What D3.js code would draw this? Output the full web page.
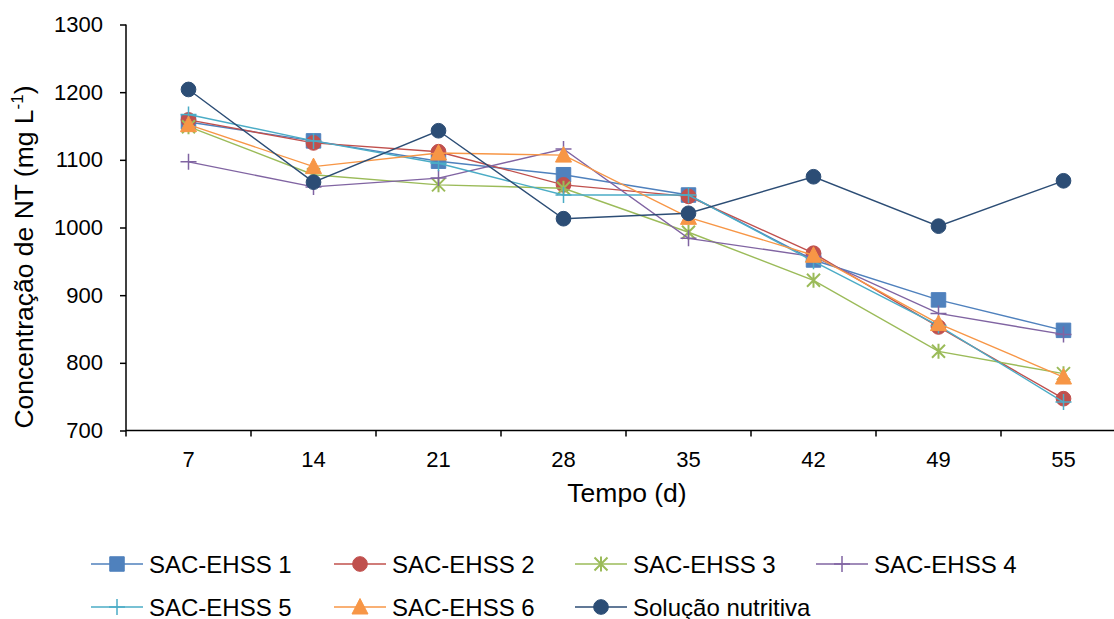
<!DOCTYPE html>
<html>
<head>
<meta charset="utf-8">
<script src="https://cdn.jsdelivr.net/npm/d3@7"></script>
<style>
    body { margin: 0; background: #fff; }
    text { font-family: "Liberation Sans", Arial, sans-serif; fill: #000; }
</style>
</head>
<body>
<div id="chart"></div>
<script>

// days of sampling
const days = ['7', '14', '21', '28', '35', '42', '49', '55'];
const yTicks = [700, 800, 900, 1000, 1100, 1200, 1300];

// NT concentration (mg/L) per treatment
const sac1 = [1156, 1128, 1098, 1078, 1048, 952, 893, 848];
const sac2 = [1159, 1125, 1112, 1063, 1046, 962, 853, 747];
const sac3 = [1149, 1078, 1063, 1058, 993, 922, 817, 784];
const sac4 = [1097, 1060, 1073, 1116, 984, 957, 873, 842];
const sac5 = [1167, 1128, 1095, 1048, 1048, 950, 855, 742];
const sac6 = [1152, 1090, 1110, 1107, 1015, 959, 858, 779];
const solucao = [1204, 1067, 1143, 1013, 1021, 1075, 1002, 1069];

const seriesNames = ['SAC-EHSS 1', 'SAC-EHSS 2', 'SAC-EHSS 3', 'SAC-EHSS 4', 'SAC-EHSS 5', 'SAC-EHSS 6', 'Solução nutritiva'];
const seriesValues = [sac1, sac2, sac3, sac4, sac5, sac6, solucao];
const seriesColors = ['#4F81BD', '#C0504D', '#9BBB59', '#8064A2', '#4BACC6', '#F79646', '#2C4D75'];
const seriesMarkers = ['square', 'circle', 'star', 'plus', 'plus', 'triangle', 'circle'];

const W = 1114, H = 619;
const margin = {top: 24.5, left: 126, right: 0, bottom: 188.5};

const svg = d3.select('#chart').append('svg')
    .attr('width', W)
    .attr('height', H);

const x = d3.scaleBand()
    .domain(days)
    .range([margin.left, 1126])
    .padding(0);

const y = d3.scaleLinear()
    .domain([700, 1300])
    .range([H - margin.bottom, margin.top]);

// draw a marker at (0,0)
function drawMarker(g, type, color) {
    if (type === 'square') {
        g.append('path').attr('d', d3.symbol(d3.symbolSquare, 210)())
            .attr('fill', color).attr('stroke', color).attr('stroke-width', 1);
    } else if (type === 'circle') {
        g.append('path').attr('d', d3.symbol(d3.symbolCircle, 170)())
            .attr('fill', color).attr('stroke', color).attr('stroke-width', 1);
    } else if (type === 'triangle') {
        g.append('path').attr('d', 'M0,-8.5 L8,7 L-8,7 Z')
            .attr('fill', color).attr('stroke', color).attr('stroke-width', 1);
    } else if (type === 'star') {
        g.append('path').attr('d', 'M0,-7.5 L0,7.5 M-6.5,-6.5 L6.5,6.5 M-6.5,6.5 L6.5,-6.5')
            .attr('fill', 'none').attr('stroke', color).attr('stroke-width', 2);
    } else if (type === 'plus') {
        g.append('path').attr('d', 'M0,-8 L0,8 M-8,0 L8,0')
            .attr('fill', 'none').attr('stroke', color).attr('stroke-width', 1.5);
    }
}

// axes
const yAxis = d3.axisLeft(y).tickValues(yTicks).tickFormat(d3.format('d'))
    .tickSize(6).tickSizeOuter(0).tickPadding(17);
const gy = svg.append('g')
    .attr('transform', `translate(${margin.left},0)`)
    .call(yAxis);
gy.selectAll('text').style('font-size', '22px');
gy.select('.domain').attr('stroke-width', 1.5);
gy.selectAll('.tick line').attr('stroke-width', 1.5);
gy.select('.domain').attr('d', `M0,${margin.top}V${H - margin.bottom + 6}`);

const gx = svg.append('g')
    .attr('transform', `translate(0,${H - margin.bottom})`);
gx.append('line')
    .attr('x1', margin.left).attr('x2', 1126)
    .attr('stroke', '#000').attr('stroke-width', 1.5);
gx.selectAll('.sep').data(days.slice(1))
    .enter().append('line')
    .attr('class', 'sep')
    .attr('x1', d => x(d)).attr('x2', d => x(d))
    .attr('y1', 0).attr('y2', 6)
    .attr('stroke', '#000').attr('stroke-width', 1.5);
gx.selectAll('.lbl').data(days)
    .enter().append('text')
    .attr('class', 'lbl')
    .attr('x', d => x(d) + x.bandwidth() / 2)
    .attr('y', 36)
    .attr('text-anchor', 'middle')
    .style('font-size', '22px')
    .text(d => d);

// axis titles
svg.append('text')
    .attr('x', 627).attr('y', 502)
    .attr('text-anchor', 'middle')
    .style('font-size', '26.5px')
    .text('Tempo (d)');

const yTitle = svg.append('text')
    .attr('transform', 'translate(33,257) rotate(-90)')
    .attr('text-anchor', 'middle')
    .style('font-size', '26.5px');
yTitle.append('tspan').text('Concentração de NT (mg L');
yTitle.append('tspan').attr('dy', -10).style('font-size', '17px').text('-1');
yTitle.append('tspan').attr('dy', 10).text(')');

// series
const line = d3.line()
    .x((d, i) => x(days[i]) + x.bandwidth() / 2)
    .y(d => y(d));

seriesValues.forEach((vals, s) => {
    const g = svg.append('g');
    g.append('path')
        .attr('d', line(vals))
        .attr('fill', 'none')
        .attr('stroke', seriesColors[s])
        .attr('stroke-width', 1.4);
    vals.forEach((v, i) => {
        const m = g.append('g')
            .attr('transform', `translate(${x(days[i]) + x.bandwidth() / 2},${y(v)})`);
        drawMarker(m, seriesMarkers[s], seriesColors[s]);
    });
});

// legend
const legCols = [117, 360, 601, 842];
const legRows = [564, 607];
seriesNames.forEach((name, i) => {
    const cx = legCols[i % 4];
    const cy = legRows[Math.floor(i / 4)];
    const g = svg.append('g').attr('transform', `translate(${cx},${cy})`);
    g.append('line')
        .attr('x1', -26).attr('x2', 26)
        .attr('stroke', seriesColors[i]).attr('stroke-width', 1.5);
    drawMarker(g, seriesMarkers[i], seriesColors[i]);
    g.append('text')
        .attr('x', 32).attr('y', 8.5)
        .style('font-size', '24px')
        .text(name);
});
</script>
</body>
</html>
